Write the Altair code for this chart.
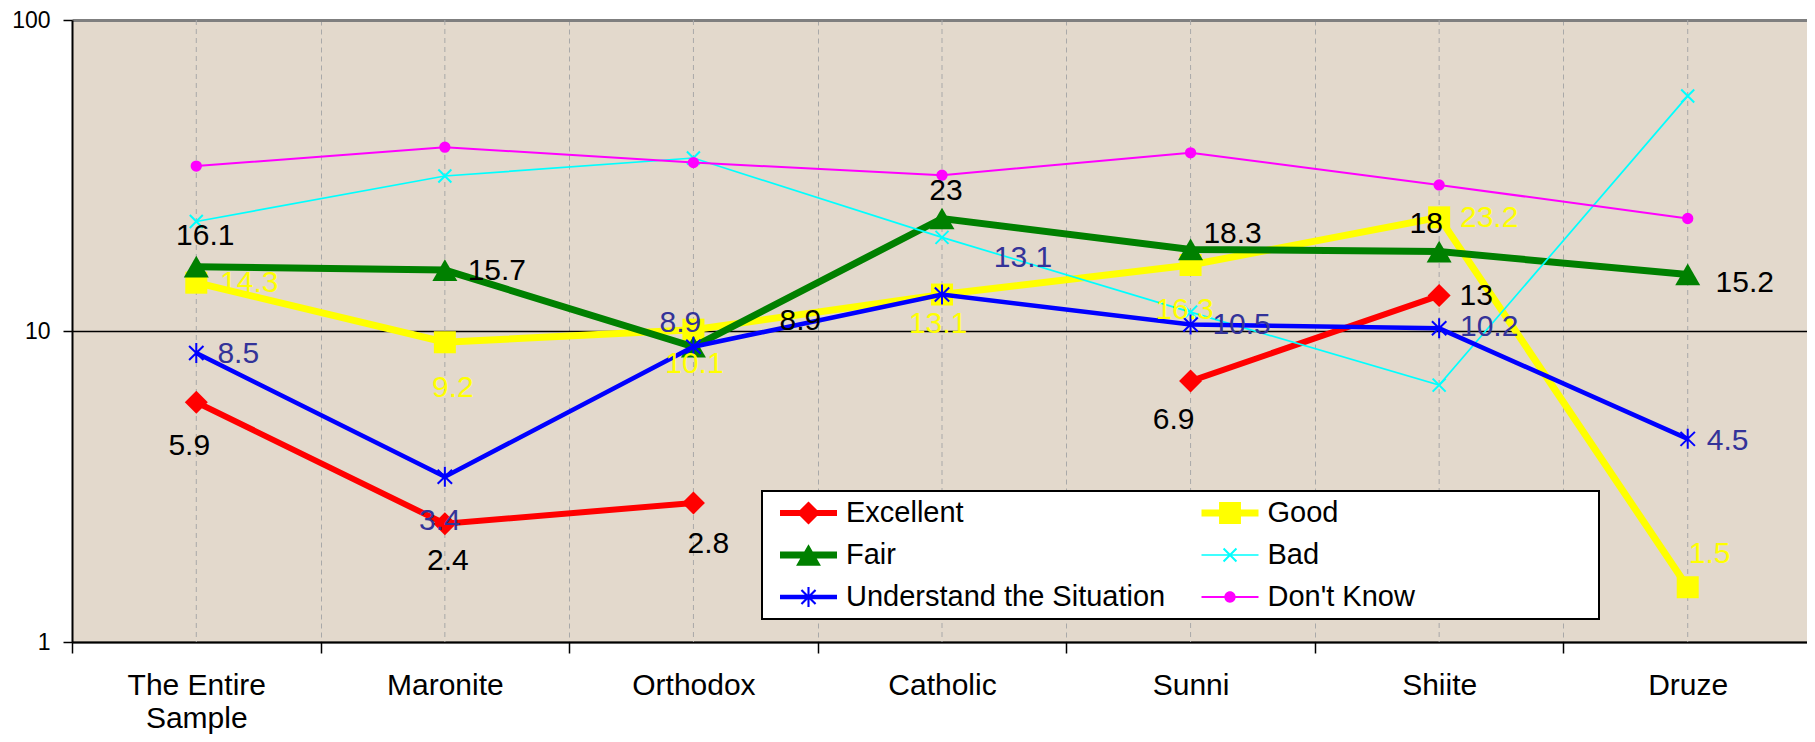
import altair as alt
import pandas as pd

# ---------------- data ----------------
categories = ["The Entire Sample", "Maronite", "Orthodox", "Catholic", "Sunni", "Shiite", "Druze"]
series_names = ["Excellent", "Good", "Fair", "Bad", "Understand the Situation", "Don't Know"]

excellent = [5.9, 2.4, 2.8, None, 6.9, 13, None]
good = [14.3, 9.2, 10.1, 13.1, 16.3, 23.2, 1.5]
fair = [16.1, 15.7, 8.9, 23, 18.3, 18, 15.2]
bad = [22.5, 31.5, 36, 20, 11.5, 6.7, 57]
understand = [8.5, 3.4, 8.9, 13.1, 10.5, 10.2, 4.5]
dont_know = [33.9, 39, 34.8, 31.7, 37.4, 29.5, 23]

series_values = [excellent, good, fair, bad, understand, dont_know]

# ---------------- styles ----------------
FONT = "Liberation Sans"
BG = "#E3D9CC"
line_colors = ["#FF0000", "#FFFF00", "#008000", "#00FFFF", "#0000FF", "#FF00FF"]
label_colors = ["#000000", "#FFFF00", "#000000", None, "#333399", None]
line_widths = [6, 7, 7, 1.7, 4.5, 2]

X_PATH = "M-1,-1L1,1M-1,1L1,-1"
STAR_PATH = "M0,-1V1M-0.72,-0.7L0.72,0.7M-0.72,0.7L0.72,-0.7"
marker_shapes = ["diamond", "square", "triangle-up", X_PATH, STAR_PATH, "circle"]
marker_sizes = [529, 484, 625, 169, 400, 128]
marker_filled = [True, True, True, False, False, True]
marker_stroke = [0, 0, 0, 2, 2, 0]

# label offsets (dx, dy) in pixels, per series / category
label_offsets = [
    [(-7, 44), (3, 37), (15, 41), None, (-17, 39), (37, 0), None],
    [(53, 0), (8, 46), (1, 34), (-4, 29), (-6, 45), (50, 1), (22, -33)],
    [(9, -31), (52, 1), (107, -26), (4, -28), (42, -15), (-13, -28), (57, 9)],
    None,
    [(42, 1), (-5, 44), (-13, -24), (81, -37), (51, 1), (50, -1), (40, 2)],
    None,
]

# legend symbols: line segment + marker, as filled paths
def rect(h):
    return f"M-1.9,{-h}H1.9V{h}H-1.9Z"

legend_paths = [
    rect(0.2) + "M0,-0.77L0.77,0L0,0.77L-0.77,0Z",
    rect(0.23) + "M-0.73,-0.73H0.73V0.73H-0.73Z",
    rect(0.23) + "M0,-0.72L0.83,0.72L-0.83,0.72Z",
    rect(0.057) + "M-0.383,-0.477L0.477,0.383L0.383,0.477L-0.477,-0.383Z"
    + "M-0.477,0.383L0.383,-0.477L0.477,-0.383L-0.383,0.477Z",
    rect(0.15) + "M-0.07,-0.67H0.07V0.67H-0.07Z"
    + "M-0.42,-0.52L0.52,0.42L0.42,0.52L-0.52,-0.42Z"
    + "M-0.52,0.42L0.42,-0.52L0.52,-0.42L-0.42,0.52Z",
    rect(0.067) + "M-0.377,0A0.377,0.377 0 1,1 0.377,0A0.377,0.377 0 1,1 -0.377,0Z",
]

x_axis = alt.Axis(
    title=None, orient="bottom", tickBand="extent", grid=True,
    gridColor="#A9A9A9", gridDash=[5, 4], gridWidth=1,
    tickSize=11, tickColor="#000000", tickWidth=1.5,
    domainColor="#000000", domainWidth=2,
    labelFont=FONT, labelFontSize=30, labelColor="#000000",
    labelPadding=17, labelLineHeight=33, labelAngle=0, labelLimit=400,
    labelExpr="datum.label == 'The Entire Sample' ? ['The Entire', 'Sample'] : datum.label",
)
y_axis = alt.Axis(
    title=None, values=[1, 10, 100], format="d", grid=True,
    gridColor={"condition": {"test": "datum.value == 100", "value": "#7F7F7F"}, "value": "#000000"},
    gridWidth={"condition": {"test": "datum.value == 100", "value": 3}, "value": 1.5},
    tickSize=9, tickColor="#000000", tickWidth=1.5,
    domainColor="#000000", domainWidth=2,
    labelFont=FONT, labelFontSize=23, labelColor="#000000", labelPadding=13,
)

X = alt.X("cat:N", sort=categories,
          scale=alt.Scale(domain=categories, range=[0, 1740], paddingInner=0, paddingOuter=0),
          axis=x_axis)
Y = alt.Y("value:Q", scale=alt.Scale(type="log", domain=[1, 100]), axis=y_axis)

layers = []

# dashed vertical grid at category centres
layers.append(
    alt.Chart(pd.DataFrame({"cat": categories}))
    .mark_rule(color="#A9A9A9", strokeDash=[5, 4], strokeWidth=1)
    .encode(x=X)
)

for i, name in enumerate(series_names):
    df = pd.DataFrame({"cat": categories, "value": series_values[i]})
    layers.append(
        alt.Chart(df).mark_line(color=line_colors[i], strokeWidth=line_widths[i],
                                invalid="break-paths-show-domains")
        .encode(x=X, y=Y)
    )
    dfp = df.dropna()
    pkw = dict(shape=marker_shapes[i], size=marker_sizes[i], filled=marker_filled[i],
               color=line_colors[i], opacity=1)
    if marker_stroke[i]:
        pkw["strokeWidth"] = marker_stroke[i]
    layers.append(alt.Chart(dfp).mark_point(**pkw).encode(x=X, y=Y))

for i, name in enumerate(series_names):
    if label_offsets[i] is None:
        continue
    for j, cat in enumerate(categories):
        v = series_values[i][j]
        if v is None:
            continue
        dx, dy = label_offsets[i][j]
        dfl = pd.DataFrame({"cat": [cat], "value": [v], "label": [f"{v:g}"]})
        layers.append(
            alt.Chart(dfl).mark_text(align="center", baseline="middle", dx=dx, dy=dy,
                                     font=FONT, fontSize=30, color=label_colors[i])
            .encode(x=X, y=Y, text="label:N")
        )

# an invisible spacer title on the right widens the legend frame like the original box
SPACER = "\u200b" + "\u00a0" * 21 + "\u200b"
legend_def = alt.Legend(
    title=SPACER, titleOrient="right", titleFont=FONT, titleFontSize=29, titlePadding=7,
    titleLimit=400,
    orient="none", legendX=690, legendY=471, columns=2, direction="horizontal",
    gridAlign="all",
    labelFont=FONT, labelFontSize=29, labelColor="#000000", labelLimit=600,
    symbolSize=900, symbolStrokeWidth=0, symbolOpacity=1, symbolOffset=24.5, labelOffset=22.5,
    columnPadding=24.5, rowPadding=12, padding=7,
    fillColor="#FFFFFF", strokeColor="#000000",
)
layers.append(
    alt.Chart(pd.DataFrame({"series": series_names}))
    .mark_point(filled=True)
    .encode(
        color=alt.Color("series:N", scale=alt.Scale(domain=series_names, range=line_colors),
                        legend=legend_def),
        shape=alt.Shape("series:N", scale=alt.Scale(domain=series_names, range=legend_paths),
                        legend=legend_def),
        opacity=alt.value(0),
    )
)

chart = (
    alt.layer(*layers)
    .properties(width=1735, height=622, autosize="none",
                padding={"left": 64, "top": 12, "right": 0, "bottom": 92},
                background="#FFFFFF",
                view=alt.ViewBackground(fill=BG, stroke="transparent"))
    .configure_view(fill=BG, stroke="transparent")
    .configure_legend(strokeWidth=2)
)

chart.save("out.html", embed_options={"renderer": "svg", "actions": False})
